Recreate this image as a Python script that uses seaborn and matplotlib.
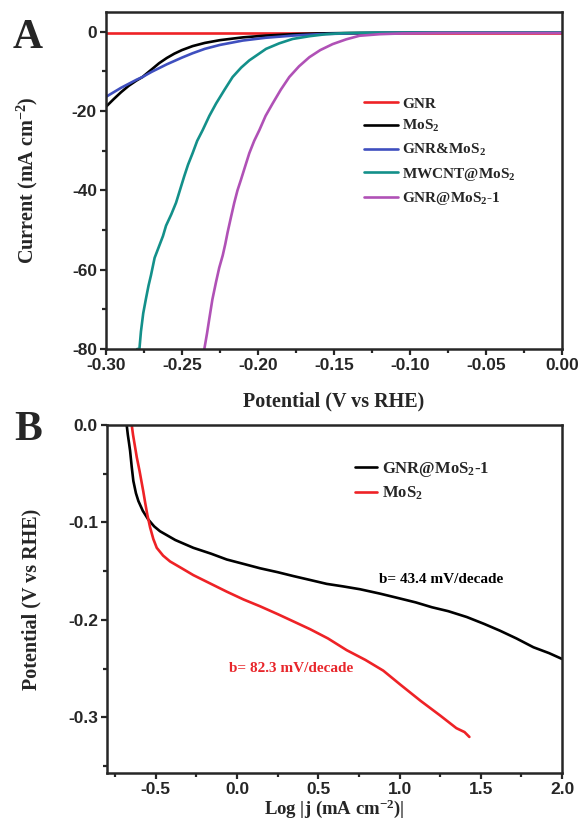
import matplotlib

matplotlib.use("Agg")
import matplotlib.pyplot as plt
from matplotlib.ticker import MultipleLocator, FormatStrFormatter
import seaborn as sns

# ---- panel A: polarization curves (potential V vs RHE, current mA cm-2)
pot_gnr = [-0.300, -0.200, -0.100, 0.000]
cur_gnr = [-0.3, -0.3, -0.3, -0.3]

pot_mos2 = [-0.300, -0.295, -0.290, -0.285, -0.280, -0.276, -0.270, -0.265, -0.260, -0.255,
            -0.250, -0.243, -0.235, -0.225, -0.210, -0.195, -0.177, -0.160, -0.140, -0.120,
            -0.100, -0.050, 0.000]
cur_mos2 = [-18.9, -17.0, -15.2, -13.6, -12.3, -11.4, -9.5, -7.9, -6.6, -5.5,
            -4.6, -3.6, -2.8, -2.1, -1.4, -0.95, -0.6, -0.4, -0.3, -0.25,
            -0.2, -0.2, -0.2]

pot_mix = [-0.300, -0.290, -0.280, -0.276, -0.270, -0.260, -0.250, -0.243, -0.235, -0.225,
           -0.210, -0.195, -0.177, -0.160, -0.140, -0.120, -0.100, -0.050, 0.000]
cur_mix = [-16.4, -14.1, -12.1, -11.4, -10.1, -8.2, -6.5, -5.4, -4.3, -3.3,
           -2.2, -1.5, -0.95, -0.6, -0.4, -0.3, -0.25, -0.2, -0.2]

pot_cnt = [-0.2795, -0.2780, -0.2770, -0.2755, -0.2737, -0.2720, -0.2704, -0.2680, -0.2649, -0.2625,
           -0.2605, -0.2570, -0.2539, -0.2510, -0.2485, -0.2460, -0.2430, -0.2400, -0.2364, -0.2320,
           -0.2276, -0.2220, -0.2167, -0.2110, -0.2057, -0.2000, -0.1947, -0.1860, -0.1772, -0.1660,
           -0.1553, -0.1440, -0.1333, -0.1200, -0.1000, -0.0500, 0.0000]
cur_cnt = [-80.0, -80.0, -75.6, -71.0, -67.3, -64.0, -61.4, -57.0, -53.9, -51.5,
           -48.9, -46.0, -43.1, -39.5, -36.4, -33.5, -30.6, -27.5, -24.8, -21.2,
           -18.1, -14.6, -11.4, -9.0, -7.2, -5.7, -4.3, -2.9, -1.8, -1.1,
           -0.6, -0.35, -0.25, -0.2, -0.2, -0.2, -0.2]

pot_gm = [-0.2353, -0.2335, -0.2320, -0.2300, -0.2276, -0.2255, -0.2232, -0.2215, -0.2200, -0.2178,
          -0.2156, -0.2135, -0.2112, -0.2085, -0.2057, -0.2025, -0.1991, -0.1950, -0.1904, -0.1850,
          -0.1794, -0.1730, -0.1662, -0.1590, -0.1509, -0.1420, -0.1333, -0.1200, -0.1050, -0.0800,
          -0.0500, 0.0000]
cur_gm = [-80.0, -76.0, -72.3, -67.5, -63.1, -59.5, -56.4, -53.5, -50.6, -46.8,
          -43.1, -40.0, -37.3, -34.0, -30.6, -27.5, -24.8, -21.2, -18.1, -14.6,
          -11.4, -8.7, -6.4, -4.6, -3.1, -1.9, -1.0, -0.6, -0.4, -0.3,
          -0.3, -0.3]

# ---- panel B: Tafel plots (log|j|, overpotential V vs RHE)
logj_gm = [-0.679, -0.672, -0.665, -0.658, -0.648, -0.638, -0.622, -0.607, -0.580, -0.546,
           -0.510, -0.474, -0.380, -0.269, -0.160, -0.063, 0.040, 0.142, 0.250, 0.347,
           0.450, 0.552, 0.650, 0.757, 0.880, 1.003, 1.100, 1.200, 1.300, 1.414,
           1.520, 1.618, 1.720, 1.824, 1.920, 2.000]
eta_gm = [0.000, -0.010, -0.018, -0.0265, -0.043, -0.0574, -0.070, -0.078, -0.088, -0.097,
          -0.104, -0.109, -0.118, -0.126, -0.132, -0.138, -0.1425, -0.147, -0.151, -0.155,
          -0.159, -0.163, -0.1655, -0.1685, -0.173, -0.178, -0.182, -0.187, -0.191, -0.197,
          -0.204, -0.211, -0.219, -0.228, -0.234, -0.240]

logj_m = [-0.648, -0.640, -0.630, -0.617, -0.600, -0.577, -0.565, -0.552, -0.535, -0.515,
          -0.494, -0.455, -0.412, -0.340, -0.269, -0.160, -0.063, 0.040, 0.142, 0.250,
          0.347, 0.450, 0.560, 0.675, 0.790, 0.900, 1.010, 1.130, 1.250, 1.350,
          1.400, 1.430]
eta_m = [0.000, -0.010, -0.020, -0.033, -0.047, -0.068, -0.080, -0.092, -0.105, -0.117,
         -0.126, -0.134, -0.140, -0.147, -0.154, -0.163, -0.171, -0.179, -0.186, -0.194,
         -0.2015, -0.2095, -0.219, -0.231, -0.241, -0.252, -0.267, -0.283, -0.298, -0.311,
         -0.315, -0.320]

ticks_a_x = [-0.30, -0.25, -0.20, -0.15, -0.10, -0.05, 0.00]
ticks_a_y = [0, -20, -40, -60, -80]
ticks_b_x = [-0.5, 0.0, 0.5, 1.0, 1.5, 2.0]
ticks_b_y = [0.0, -0.1, -0.2, -0.3]

RED, BLACK, BLUE, TEAL, PURPLE = "#ee2226", "#000000", "#3f4fbf", "#13908a", "#b051b6"
SERIF = "Liberation Serif"
SANS = "Liberation Sans"

sns.set_style("ticks")
plt.rcParams["font.family"] = [SANS, "DejaVu Sans"]
plt.rcParams["font.weight"] = "bold"
plt.rcParams["axes.unicode_minus"] = False
plt.rcParams["mathtext.fontset"] = "custom"
plt.rcParams["mathtext.rm"] = "Liberation Serif:bold"
plt.rcParams["mathtext.it"] = "Liberation Serif:bold"
plt.rcParams["mathtext.bf"] = "Liberation Serif:bold"
plt.rcParams["axes.linewidth"] = 1.8

fig = plt.figure(figsize=(5.81, 8.22), dpi=100)
ax_a = fig.add_axes([0.1824, 0.5754, 0.7849, 0.4100])
ax_b = fig.add_axes([0.1842, 0.0596, 0.7831, 0.4234])

lw = 1.9
for x, y, c, lab in [
    (pot_gnr, cur_gnr, RED, "GNR"),
    (pot_mos2, cur_mos2, BLACK, "MoS$_2$"),
    (pot_mix, cur_mix, BLUE, "GNR&MoS$_2$"),
    (pot_cnt, cur_cnt, TEAL, "MWCNT@MoS$_2$"),
    (pot_gm, cur_gm, PURPLE, "GNR@MoS$_2$-1"),
]:
    sns.lineplot(x=x, y=y, color=c, lw=lw, label=lab, estimator=None, sort=False, ax=ax_a)

for x, y, c, lab in [
    (logj_gm, eta_gm, BLACK, "GNR@MoS$_2$-1"),
    (logj_m, eta_m, RED, "MoS$_2$"),
]:
    sns.lineplot(x=x, y=y, color=c, lw=lw, label=lab, estimator=None, sort=False, ax=ax_b)


def style_axis(ax, xt, yt, xminor, yminor, xfmt, yfmt):
    ax.set_xticks(xt)
    ax.set_yticks(yt)
    ax.xaxis.set_minor_locator(MultipleLocator(xminor))
    ax.yaxis.set_minor_locator(MultipleLocator(yminor))
    ax.xaxis.set_major_formatter(FormatStrFormatter(xfmt))
    ax.yaxis.set_major_formatter(FormatStrFormatter(yfmt))
    ax.tick_params(which="both", direction="out", top=False, right=False, width=1.6)
    ax.tick_params(which="major", length=4.5, labelsize=12.5, pad=2)
    ax.tick_params(which="minor", length=3)
    for lbl in ax.get_xticklabels() + ax.get_yticklabels():
        lbl.set_fontweight("bold")
    for sp in ax.spines.values():
        sp.set_visible(True)
        sp.set_linewidth(1.8)


style_axis(ax_a, ticks_a_x, ticks_a_y, 0.025, 10, "%.2f", "%d")
ax_a.set_xlim(-0.30, 0.0)
ax_a.set_ylim(-80, 5)
ax_a.set_xlabel("Potential (V vs RHE)", family=SERIF, fontsize=14.5, fontweight="bold")
ax_a.xaxis.set_label_coords(0.5, -0.125)
ax_a.set_ylabel("Current (mA cm$^{-2}$)", family=SERIF, fontsize=14.5, fontweight="bold")
ax_a.yaxis.set_label_coords(-0.145, 0.5)

style_axis(ax_b, ticks_b_x, ticks_b_y, 0.25, 0.05, "%.1f", "%.1f")
ax_b.set_xlim(-0.8, 2.0)
ax_b.set_ylim(-0.357, 0.0)
ax_b.set_xlabel("Log |j (mA cm$^{-2}$)|", family=SERIF, fontsize=13.5, fontweight="bold")
ax_b.xaxis.set_label_coords(0.5, -0.069)
ax_b.set_ylabel("Potential (V vs RHE)", family=SERIF, fontsize=14.5, fontweight="bold")
ax_b.yaxis.set_label_coords(-0.145, 0.5)

leg_a = ax_a.legend(loc="upper left", bbox_to_anchor=(0.566, 0.748), frameon=False,
                    handlelength=2.2, handletextpad=0.3, labelspacing=0.5,
                    borderpad=0, borderaxespad=0, prop={"family": SERIF, "weight": "bold", "size": 11})
leg_b = ax_b.legend(loc="upper left", bbox_to_anchor=(0.545, 0.90), frameon=False,
                    handlelength=1.3, handletextpad=0.3, labelspacing=0.35,
                    borderpad=0, borderaxespad=0, prop={"family": SERIF, "weight": "bold", "size": 12})

ax_b.text(1.255, -0.159, "b= 43.4 mV/decade", color=BLACK, family=SERIF, fontweight="bold",
          fontsize=11, ha="center", va="center")
ax_b.text(0.33, -0.250, "b= 82.3 mV/decade", color="#e8262b", family=SERIF, fontweight="bold",
          fontsize=11, ha="center", va="center")

fig.text(28 / 581, 1 - 38 / 822, "A", family=SERIF, fontweight="bold", fontsize=30, ha="center", va="center")
fig.text(28 / 581, 1 - 430 / 822, "B", family=SERIF, fontweight="bold", fontsize=30, ha="center", va="center")

fig.savefig("out.png", dpi=100)
